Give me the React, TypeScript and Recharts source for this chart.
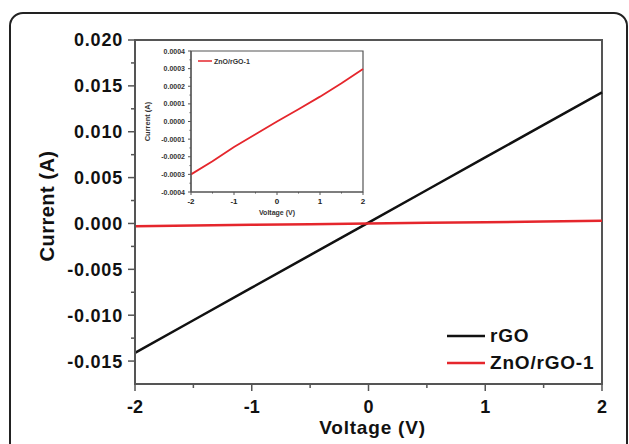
import { LineChart, Line, XAxis, YAxis, Legend, ReferenceArea, Label } from 'recharts'

// measured I-V curves (voltage in V, current in A)
const voltage = [-2, -1.5, -1, -0.5, 0, 0.5, 1, 1.5, 2]
const rgoCurrent = [-0.0141, -0.01055, -0.007, -0.00345, 0.0001, 0.00365, 0.0072, 0.01075, 0.0143]
const znoCurrent = [-0.0003, -0.000226, -0.000145, -0.000072, 0, 0.00007, 0.000141, 0.000217, 0.000298]
const seriesNames = ['rGO', 'ZnO/rGO-1']

const xTicks = [-2, -1.5, -1, -0.5, 0, 0.5, 1, 1.5, 2]
const xLabels = [-2, -1, 0, 1, 2]
const mainYTicks = [-0.015, -0.0125, -0.01, -0.0075, -0.005, -0.0025, 0, 0.0025, 0.005, 0.0075, 0.01, 0.0125, 0.015, 0.0175, 0.02]
const mainYLabels = [-0.015, -0.01, -0.005, 0, 0.005, 0.01, 0.015, 0.02]
const insetYTicks = [-0.0004, -0.00035, -0.0003, -0.00025, -0.0002, -0.00015, -0.0001, -0.00005, 0, 0.00005, 0.0001, 0.00015, 0.0002, 0.00025, 0.0003, 0.00035, 0.0004]
const insetYLabels = [-0.0004, -0.0003, -0.0002, -0.0001, 0, 0.0001, 0.0002, 0.0003, 0.0004]

const mainData = voltage.map((v, i) => ({ v, rgo: rgoCurrent[i], zno: znoCurrent[i] }))
const insetData = voltage.map((v, i) => ({ v, zno: znoCurrent[i] }))

const FONT = '"Liberation Sans", Arial, sans-serif'
const AXIS = '#555'
const BLACK = '#111'
const RED = '#e5262c'

function MainYTick({ x, y, payload }: any) {
  const major = mainYLabels.includes(payload.value)
  return (
    <g>
      <line x1={x + (major ? 5 : 8)} x2={x + 12} y1={y} y2={y} stroke={AXIS} strokeWidth={1.5} />
      {major && (
        <text x={x} y={y} dy="0.36em" textAnchor="end" fontFamily={FONT} fontWeight="bold" fontSize={18} fill="#111" letterSpacing={0.8}>
          {payload.value.toFixed(3)}
        </text>
      )}
    </g>
  )
}

function MainXTick({ x, y, payload }: any) {
  const major = xLabels.includes(payload.value)
  return (
    <g>
      <line x1={x} x2={x} y1={y - 16} y2={y - (major ? 9 : 12)} stroke={AXIS} strokeWidth={1.5} />
      {major && (
        <text x={x} y={y} dy="0.72em" textAnchor="middle" fontFamily={FONT} fontWeight="bold" fontSize={18} fill="#111">
          {payload.value}
        </text>
      )}
    </g>
  )
}

function InsetYTick({ x, y, payload }: any) {
  const major = insetYLabels.includes(payload.value)
  return (
    <g>
      <line x1={x + (major ? 3 : 4.5)} x2={x + 6} y1={y} y2={y} stroke={AXIS} strokeWidth={1} />
      {major && (
        <text x={x} y={y} dy="0.36em" textAnchor="end" fontFamily={FONT} fontWeight="bold" fontSize={7} fill="#333">
          {payload.value.toFixed(4)}
        </text>
      )}
    </g>
  )
}

function InsetXTick({ x, y, payload }: any) {
  const major = xLabels.includes(payload.value)
  return (
    <g>
      <line x1={x} x2={x} y1={y - 6} y2={y - (major ? 3 : 4.5)} stroke={AXIS} strokeWidth={1} />
      {major && (
        <text x={x} y={y} dy="0.75em" textAnchor="middle" fontFamily={FONT} fontWeight="bold" fontSize={8} fill="#222">
          {payload.value}
        </text>
      )}
    </g>
  )
}

function MainYTitle({ viewBox }: any) {
  const vb = viewBox ?? { x: 0, y: 40, width: 135, height: 344 }
  const cx = vb.x + 47
  const cy = vb.y + 166
  return (
    <text x={cx} y={cy} dy="0.36em" textAnchor="middle" transform={`rotate(-90, ${cx}, ${cy})`} fontFamily={FONT} fontWeight="bold" fontSize={20} fill="#111" letterSpacing={0.5}>
      Current (A)
    </text>
  )
}

function MainXTitle({ viewBox }: any) {
  const vb = viewBox ?? { x: 135, y: 384, width: 467, height: 60 }
  return (
    <text x={vb.x + vb.width / 2 + 4} y={vb.y + 50} textAnchor="middle" fontFamily={FONT} fontWeight="bold" fontSize={19} fill="#111" letterSpacing={0.8}>
      Voltage (V)
    </text>
  )
}

function InsetYTitle({ viewBox }: any) {
  const vb = viewBox ?? { x: 0, y: 6, width: 51, height: 141 }
  const cx = vb.x + 7
  const cy = vb.y + vb.height / 2
  return (
    <text x={cx} y={cy} dy="0.36em" textAnchor="middle" transform={`rotate(-90, ${cx}, ${cy})`} fontFamily={FONT} fontWeight="bold" fontSize={7.5} fill="#333">
      Current (A)
    </text>
  )
}

function InsetXTitle({ viewBox }: any) {
  const vb = viewBox ?? { x: 51, y: 147, width: 172, height: 28 }
  return (
    <text x={vb.x + vb.width / 2} y={vb.y + 23} textAnchor="middle" fontFamily={FONT} fontWeight="bold" fontSize={7} fill="#333">
      Voltage (V)
    </text>
  )
}

// keep the legend in plotting order (recharts sorts it by name otherwise)
const ordered = (payload: any[] = []) =>
  [...payload].sort((a, b) => seriesNames.indexOf(a.value) - seriesNames.indexOf(b.value))

function MainLegend({ payload }: any) {
  return (
    <div>
      {ordered(payload).map((entry: any) => (
        <div key={entry.value} style={{ display: 'flex', alignItems: 'center', height: 27 }}>
          <svg width={38} height={4}>
            <line x1={0} x2={38} y1={2} y2={2} stroke={entry.color} strokeWidth={2.5} />
          </svg>
          <span style={{ marginLeft: 5, fontFamily: FONT, fontWeight: 'bold', fontSize: 19, color: '#111', letterSpacing: 0.8 }}>
            {entry.value}
          </span>
        </div>
      ))}
    </div>
  )
}

function InsetLegend({ payload }: any) {
  return (
    <div>
      {ordered(payload).map((entry: any) => (
        <div key={entry.value} style={{ display: 'flex', alignItems: 'center', height: 10 }}>
          <svg width={14} height={2}>
            <line x1={0} x2={14} y1={1} y2={1} stroke={entry.color} strokeWidth={1.5} />
          </svg>
          <span style={{ marginLeft: 2, fontFamily: FONT, fontWeight: 'bold', fontSize: 7, color: '#333' }}>{entry.value}</span>
        </div>
      ))}
    </div>
  )
}

export default function App() {
  return (
    <div style={{ position: 'absolute', left: 0, top: 0, width: 629, height: 444, overflow: 'hidden', background: '#fff' }}>
      {/* rounded frame round the figure, open at the bottom */}
      <div
        style={{
          position: 'absolute',
          left: 9,
          top: 12,
          width: 619,
          height: 470,
          boxSizing: 'border-box',
          border: '2px solid #222',
          borderRadius: 14,
        }}
      />

      <div style={{ position: 'absolute', left: 0, top: 0 }}>
        <LineChart width={629} height={444} data={mainData} margin={{ top: 40, right: 27, bottom: 0, left: 0 }}>
          <XAxis
            dataKey="v"
            type="number"
            domain={[-2, 2]}
            ticks={xTicks}
            interval={0}
            height={60}
            stroke={AXIS}
            strokeWidth={2}
            tickLine={false}
            tickSize={7}
            tickMargin={9}
            tick={<MainXTick />}
          >
            <Label content={<MainXTitle />} />
          </XAxis>
          <YAxis
            type="number"
            domain={[-0.0175, 0.02]}
            ticks={mainYTicks}
            interval={0}
            allowDataOverflow
            width={135}
            stroke={AXIS}
            strokeWidth={2}
            tickLine={false}
            tickSize={7}
            tickMargin={5}
            tick={<MainYTick />}
          >
            <Label content={<MainYTitle />} />
          </YAxis>
          <ReferenceArea x1={-2} x2={2} y1={-0.0175} y2={0.02} fill="none" stroke={AXIS} strokeWidth={2} />
          <Line type="linear" dataKey="rgo" name="rGO" stroke={BLACK} strokeWidth={2.5} dot={false} isAnimationActive={false} />
          <Line type="linear" dataKey="zno" name="ZnO/rGO-1" stroke={RED} strokeWidth={2.5} dot={false} isAnimationActive={false} />
          <Legend
            layout="vertical"
            align="center"
            verticalAlign="middle"
            content={<MainLegend />}
            wrapperStyle={{ left: 447, top: 322, width: 170 }}
          />
        </LineChart>
      </div>

      {/* inset: ZnO/rGO-1 on its own scale */}
      <div style={{ position: 'absolute', left: 140, top: 45 }}>
        <LineChart width={230} height={175} data={insetData} margin={{ top: 6, right: 7, bottom: 0, left: 0 }}>
          <XAxis
            dataKey="v"
            type="number"
            domain={[-2, 2]}
            ticks={xTicks}
            interval={0}
            height={28}
            stroke={AXIS}
            strokeWidth={1.2}
            tickLine={false}
            tickSize={3}
            tickMargin={3}
            tick={<InsetXTick />}
          >
            <Label content={<InsetXTitle />} />
          </XAxis>
          <YAxis
            type="number"
            domain={[-0.0004, 0.0004]}
            ticks={insetYTicks}
            interval={0}
            allowDataOverflow
            width={51}
            stroke={AXIS}
            strokeWidth={1.2}
            tickLine={false}
            tickSize={3}
            tickMargin={3}
            tick={<InsetYTick />}
          >
            <Label content={<InsetYTitle />} />
          </YAxis>
          <ReferenceArea x1={-2} x2={2} y1={-0.0004} y2={0.0004} fill="none" stroke={AXIS} strokeWidth={1.2} />
          <Line type="linear" dataKey="zno" name="ZnO/rGO-1" stroke={RED} strokeWidth={1.8} dot={false} isAnimationActive={false} />
          <Legend
            layout="vertical"
            align="center"
            verticalAlign="middle"
            content={<InsetLegend />}
            wrapperStyle={{ left: 58, top: 11, width: 80 }}
          />
        </LineChart>
      </div>
    </div>
  )
}
